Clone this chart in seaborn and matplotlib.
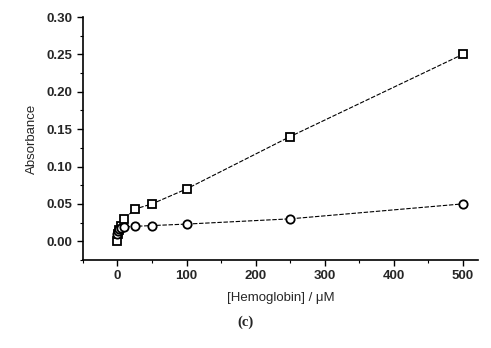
import matplotlib
matplotlib.use("Agg")
import matplotlib.pyplot as plt
import seaborn as sns
import pandas as pd
from matplotlib.ticker import MultipleLocator

sns.set_theme(style="ticks")
plt.rcParams['font.family'] = ['Liberation Sans', 'DejaVu Sans']

conc_sq = [0, 1, 2, 5, 10, 25, 50, 100, 250, 500]
abs_sq = [0.000, 0.010, 0.015, 0.020, 0.030, 0.043, 0.050, 0.070, 0.140, 0.250]
conc_ci = [0, 1, 2, 5, 10, 25, 50, 100, 250, 500]
abs_ci = [0.010, 0.014, 0.016, 0.018, 0.019, 0.020, 0.021, 0.023, 0.030, 0.050]

df_sq = pd.DataFrame({"x": conc_sq, "y": abs_sq})
df_ci = pd.DataFrame({"x": conc_ci, "y": abs_ci})

fig = plt.figure(figsize=(4.91, 3.48), dpi=100)
ax = fig.add_axes([0.169, 0.253, 0.804, 0.698])

sns.lineplot(data=df_sq, x="x", y="y", ax=ax, color="black", lw=0.8,
             linestyle=(0, (4, 1.5)), marker="s", markersize=6,
             markerfacecolor="white", markeredgecolor="black", markeredgewidth=1.3)
sns.lineplot(data=df_ci, x="x", y="y", ax=ax, color="black", lw=0.8,
             linestyle=(0, (4, 1.5)), marker="o", markersize=6,
             markerfacecolor="white", markeredgecolor="black", markeredgewidth=1.3)

ax.set_xlim(-50, 522)
ax.set_ylim(-0.025, 0.30)
ax.set_xticks([0, 100, 200, 300, 400, 500])
ax.set_yticks([0.00, 0.05, 0.10, 0.15, 0.20, 0.25, 0.30])
ax.set_yticklabels(["0.00", "0.05", "0.10", "0.15", "0.20", "0.25", "0.30"])
ax.xaxis.set_minor_locator(MultipleLocator(50))
ax.yaxis.set_minor_locator(MultipleLocator(0.025))
ax.tick_params(axis="both", which="major", length=4, width=1, labelsize=9.5, color="black")
ax.tick_params(axis="both", which="minor", length=2.5, width=0.8, color="black")
for lbl in ax.get_xticklabels() + ax.get_yticklabels():
    lbl.set_fontweight("bold")
for s in ["top", "right"]:
    ax.spines[s].set_visible(False)
for s in ["left", "bottom"]:
    ax.spines[s].set_color("black")
    ax.spines[s].set_linewidth(1.2)

ax.set_xlabel("[Hemoglobin] / \u03bcM", fontsize=9.5, labelpad=7)
ax.set_ylabel("Absorbance", fontsize=9.5, labelpad=6)
fig.text(0.5, 0.075, "(c)", ha="center", va="center", fontsize=10.5,
         fontweight="bold", family=["Liberation Serif", "DejaVu Serif"])

fig.savefig("out.png", dpi=100)
